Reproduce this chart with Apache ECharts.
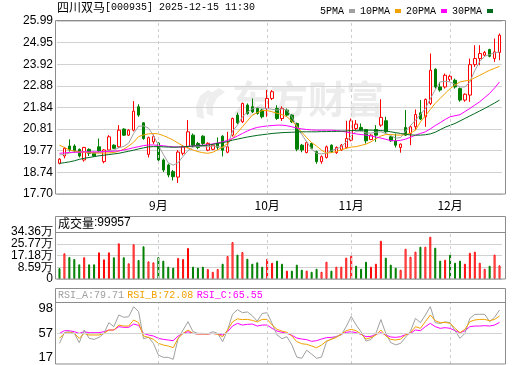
<!DOCTYPE html>
<html><head><meta charset="utf-8">
<script src="https://cdn.jsdelivr.net/npm/echarts@6/dist/echarts.min.js"></script>
<style>html,body{margin:0;padding:0;background:#fff}#c{width:520px;height:365px}</style>
</head><body><div id="c"></div>
<script>
// ---- trading days shown (Aug 4 2025 .. Dec 15 2025) ----
const augDays=[4,5,6,7,8,11,12,13,14,15,18,19,20,21,22,25,26,27,28,29];
const sepDays=[1,2,3,4,5,8,9,10,11,12,15,16,17,18,19,22,23,24,25,26,29,30];
const octDays=[9,10,13,14,15,16,17,20,21,22,23,24,27,28,29,30,31];
const novDays=[3,4,5,6,7,10,11,12,13,14,17,18,19,20,21,24,25,26,27,28];
const decDays=[1,2,3,4,5,8,9,10,11,12,15];
const monthList=[[8,augDays],[9,sepDays],[10,octDays],[11,novDays],[12,decDays]];
const categories=[];const monthStarts=[];
monthList.forEach(([m,ds],k)=>{ds.forEach((d,j)=>{const s='2025-'+String(m).padStart(2,'0')+'-'+String(d).padStart(2,'0');categories.push(s);if(j===0&&k>0)monthStarts.push(s);});});

// ---- candles: [open, close, low, high] ----
const ohlc=[
[19.17,19.37,19.12,19.42],[19.52,19.89,19.41,19.96],[20.00,19.81,19.73,20.32],[20.00,19.77,19.68,20.08],[19.84,19.52,19.45,19.88],
[19.33,19.93,19.25,19.96],[19.84,19.65,19.52,19.89],[19.68,19.52,19.49,19.73],[19.96,19.77,19.73,20.36],[19.25,19.81,19.17,19.85],
[19.81,20.44,19.77,20.52],[20.04,19.89,19.85,20.08],[19.96,20.76,19.90,21.00],[20.81,20.52,20.48,20.85],[20.52,20.76,20.48,20.80],
[20.76,21.67,20.70,22.15],[21.88,21.48,21.40,22.00],[21.11,20.36,20.30,21.15],[19.60,20.40,19.45,20.45],[20.20,20.45,20.10,20.55],
[20.14,19.33,19.25,20.18],[19.33,18.85,18.75,19.40],[19.09,18.61,18.50,19.15],[18.77,18.53,18.35,18.85],[18.51,19.71,18.23,19.80],
[19.65,19.96,19.55,20.05],[19.96,20.68,19.90,21.24],[20.52,20.04,19.95,20.60],[20.12,19.93,19.85,20.20],[20.47,20.12,20.05,20.52],
[19.80,20.13,19.75,20.18],[19.84,20.04,19.80,20.10],[20.13,19.94,19.81,20.41],[20.47,19.80,19.50,20.52],[19.70,19.96,19.65,20.68],
[20.52,21.32,20.45,21.36],[21.48,21.11,21.05,21.60],[21.16,22.04,21.10,22.08],[21.96,21.56,21.50,22.04],[21.88,21.64,21.58,22.28],
[21.80,21.56,21.50,21.85],[21.72,21.40,21.32,21.78],[21.80,22.28,21.40,22.68],[22.28,22.60,22.20,22.68],[21.80,21.32,21.25,21.95],
[21.32,21.80,21.20,21.90],[21.72,21.48,21.42,21.80],[21.48,21.16,21.10,21.52],[21.08,19.85,19.75,21.12],[20.04,19.81,19.70,20.10],
[19.69,20.16,19.65,20.22],[20.12,19.89,19.84,20.16],[19.73,19.25,19.15,19.78],[19.25,19.49,19.15,19.55],[19.45,19.96,19.40,20.02],
[20.04,19.73,19.68,20.08],[19.68,19.93,19.62,19.98],[19.81,20.04,19.76,20.10],[19.93,20.36,19.88,21.21],[20.28,21.21,20.22,21.32],
[20.84,21.05,20.76,21.24],[20.89,20.76,20.70,21.08],[20.79,20.25,20.12,20.82],[20.31,20.52,20.28,20.56],[20.79,20.52,20.20,21.00],
[21.00,21.37,20.92,22.24],[21.21,20.68,20.60,21.40],[20.44,20.25,20.20,20.48],[20.25,20.04,19.93,20.60],[19.93,20.09,19.68,20.12],
[20.89,20.52,20.48,21.72],[20.60,20.92,20.04,20.98],[20.92,21.51,20.76,21.75],[21.59,21.29,21.24,22.20],[21.40,22.23,20.92,22.28],
[22.04,23.63,21.96,24.43],[23.68,22.83,22.75,23.72],[22.83,22.68,22.60,23.07],[22.83,23.39,22.75,23.47],[23.19,23.34,23.10,23.42],
[23.15,22.83,22.75,23.23],[22.75,22.20,22.12,22.80],[22.20,22.48,22.12,22.52],[22.44,23.90,22.12,24.19],[23.90,24.19,23.79,24.83],
[24.19,24.43,23.87,24.83],[24.35,24.48,24.30,24.55],[24.62,24.30,24.25,24.66],[24.19,24.51,24.03,25.15],[24.48,25.31,24.11,25.39]];

// ---- volume (手) ----
const volume=[80000,188000,161000,146000,107000,159000,107000,107000,195000,144000,
195000,159000,261000,159000,115000,254000,139000,239000,129000,122000,
160000,134000,90000,83000,154000,146000,227000,90000,83000,90000,
73000,53000,73000,112000,168000,270000,178000,197000,148000,112000,
122000,90000,148000,119000,134000,112000,61000,61000,105000,68000,
61000,53000,75000,53000,126000,61000,90000,90000,156000,170000,
97000,75000,126000,90000,112000,280000,156000,105000,83000,68000,
221000,163000,200000,236000,236000,309000,229000,134000,141000,178000,
119000,134000,112000,192000,200000,119000,75000,97000,178000,99957];
// volume bar direction as drawn (1 = red/up, 0 = green/down)
const volUp=[0,1,0,0,0,1,0,0,1,1,1,0,1,0,1,1,0,0,1,1,
0,0,0,0,1,1,1,0,0,0,1,1,1,0,1,1,0,1,0,0,0,0,
1,1,0,0,1,0,0,0,1,0,0,1,1,0,1,1,1,
1,0,0,0,1,1,1,0,0,0,1,1,1,1,0,1,1,0,0,1,
0,0,0,1,1,1,1,1,0,1,1];

// ---- moving averages ----
const ma5=[19.57,19.60,19.66,19.72,19.70,19.74,19.68,19.66,19.70,19.72,19.78,19.80,19.92,19.98,20.14,20.60,20.95,20.96,20.86,20.50,
20.04,19.60,19.20,19.08,19.20,19.50,19.78,19.95,19.98,19.97,19.96,20.00,19.98,19.92,20.00,20.72,21.00,21.40,21.62,21.78,
21.86,21.82,21.80,21.76,21.72,21.78,21.72,21.40,20.95,20.55,20.20,19.85,19.65,19.62,19.66,19.78,19.86,19.96,20.20,20.50,
20.70,20.72,20.62,20.62,20.66,20.68,20.60,20.50,20.38,20.40,20.72,20.98,21.24,21.50,21.80,22.26,22.70,23.07,23.10,23.07,
22.95,22.83,22.83,23.07,23.62,24.05,24.30,24.38,24.46,24.51];
const ma10=[20.04,19.93,19.81,19.76,19.72,19.70,19.68,19.67,19.66,19.66,19.67,19.69,19.75,19.85,20.00,20.18,20.45,20.53,20.58,20.60,
20.58,20.50,20.40,20.28,20.14,20.00,19.90,19.81,19.73,19.68,19.65,19.70,19.82,19.95,20.12,20.36,20.65,20.92,21.20,21.48,
21.60,21.70,21.70,21.64,21.57,21.50,21.40,21.20,20.95,20.66,20.40,20.16,20.00,19.80,19.66,19.68,19.74,19.82,19.89,19.95,
19.97,20.03,20.09,20.20,20.35,20.48,20.55,20.55,20.53,20.52,20.55,20.62,20.76,21.15,21.45,21.75,22.05,22.28,22.52,22.75,
22.92,23.07,23.12,23.15,23.27,23.39,23.51,23.63,23.72,23.82];
const ma20=[19.65,19.67,19.69,19.70,19.71,19.72,19.72,19.72,19.72,19.73,19.74,19.75,19.77,19.81,19.86,19.92,19.97,20.02,20.05,20.05,
20.03,20.01,19.98,19.96,19.95,19.96,19.98,20.00,20.03,20.04,20.06,20.10,20.15,20.20,20.27,20.36,20.48,20.60,20.72,20.82,
20.89,20.93,20.96,20.98,21.00,21.00,20.97,20.92,20.86,20.82,20.79,20.77,20.76,20.76,20.76,20.76,20.74,20.71,20.67,20.62,
20.58,20.55,20.52,20.48,20.43,20.38,20.32,20.26,20.25,20.27,20.33,20.42,20.52,20.60,20.68,20.82,20.98,21.12,21.27,21.40,
21.45,21.50,21.65,21.80,21.96,22.12,22.32,22.52,22.78,23.07];
const ma30=[19.17,19.20,19.24,19.29,19.36,19.41,19.45,19.49,19.53,19.56,19.59,19.62,19.65,19.70,19.75,19.80,19.86,19.91,19.96,19.97,
19.97,19.96,19.95,19.94,19.95,19.96,19.98,20.00,20.01,20.02,20.04,20.08,20.12,20.16,20.21,20.28,20.33,20.38,20.43,20.47,
20.51,20.54,20.57,20.60,20.62,20.64,20.65,20.66,20.67,20.68,20.68,20.68,20.68,20.69,20.69,20.70,20.70,20.71,20.72,20.74,
20.75,20.76,20.76,20.76,20.75,20.74,20.72,20.68,20.64,20.60,20.56,20.53,20.52,20.52,20.54,20.58,20.66,20.78,20.90,20.99,
21.08,21.20,21.32,21.44,21.56,21.68,21.80,21.93,22.06,22.20];

// ---- RSI ----
const rsiA=[44.0,57.9,59.2,57.0,44.9,61.4,50.5,49.2,51.8,57.0,71.0,65.8,81.0,78.0,78.8,91.9,85.4,50.0,52.0,44.0,
28.7,25.7,25.7,23.1,50.5,61.4,72.3,59.2,57.0,57.0,56.2,59.2,57.0,46.2,61.4,82,88,84,85,80,
73,83,84,70,55,50,52.7,42,26,24.4,35,30,24.4,26,46,50,53,55,66,79,
68,59,47,49,57,75,57,45,42,44,52,60,76.6,71,81,92,71,70,72,71,
60.5,50.5,57,76.6,81.9,81.9,81.9,72.3,78,87.5];
const rsiB=[50.5,57.0,57.9,57.0,50.5,57.0,54.9,54.9,54.9,57.0,61.4,61.4,67.9,66.6,66.6,74.5,71.0,53.6,51.8,49.2,
44.0,41.8,40.5,38.3,50.5,57.0,61.4,57.0,56.2,56.2,56.2,57.0,55.7,52.7,61.4,72,76,75,75.3,74,
72,75.3,75.3,68,62.3,60,58.4,53.6,46.2,43.5,42.7,40.5,38.3,41.8,47,49.2,51.8,56.2,60.5,62.3,
60.5,56.2,49.6,51.4,54.9,61.4,53.6,49.2,48.3,49.6,54.9,57.9,65.8,63.6,72.3,81,73.6,71,71.4,70.1,
63.6,57.9,62.3,72.3,74.5,75.3,75.3,73.6,75.3,79.7];
const rsiC=[57.0,60.5,60.5,59.2,57.0,59.2,57.9,57.9,57.9,59.2,61.4,61.4,65.8,64.9,64.9,69.2,67.5,57.0,54.9,53.6,
50.5,49.2,48.3,47.5,53.6,57.0,59.2,57.0,56.2,56.2,56.2,57.0,56.2,54.9,59.2,66.6,70.1,67.9,68.8,69.2,
66.6,67.9,67.9,63.6,60,58.4,57,54.4,50.9,49.6,48.8,46.6,47.5,49.6,51.4,51.8,52.7,55.7,58.4,59.2,
57.9,55.7,52.7,53.1,55.7,57.9,54.9,52.3,51.8,52.7,55.3,57,61.4,60.5,65.8,70.1,65.8,63.6,64.5,63.6,
60.5,57.9,60.5,65.8,66.6,66.6,67.1,66.6,67.9,71.4];
const rsiHeader=['79.71','72.08','65.55'];

// ---- tick labels ----
const priceTicks=['17.70','18.74','19.77','20.81','21.84','22.88','23.92','24.95','25.99'];
const volTickValues=[0,85900,171800,257700,343600];
const volTicks=['0','8.59万','17.18万','25.77万','34.36万'];
const rsiTicks=[17,57,98];

const stockName='四川双马';
const stockCode='[000935]';
const stamp='2025-12-15 11:30';

// ---------------------------------------------------------------
const UP='#ff0000', DOWN='#008000';
const C5='#a0a0a0', C10='#f2a100', C20='#ff00ff', C30='#006a1e';
const GRID='#d2d2d2', FRAME='#8c8c8c';
const pMin=parseFloat(priceTicks[0]), pMax=parseFloat(priceTicks[priceTicks.length-1]);
const vMax=volTickValues[volTickValues.length-1];
function nearest(arr,v){let best=arr[0],bd=Infinity;arr.forEach(s=>{const d=Math.abs(parseFloat(s)-v);if(d<bd){bd=d;best=s;}});return best;}
function volLabel(v){let k=0,bd=Infinity;volTickValues.forEach((t,i)=>{const d=Math.abs(t-v);if(d<bd){bd=d;k=i;}});return volTicks[k];}

const volData=volume.map((v,i)=>({value:v,itemStyle:volUp[i]?{color:'#ffffff',borderColor:UP,borderWidth:1}:{color:DOWN,borderColor:DOWN,borderWidth:1}}));
const dashed={silent:true,symbol:['none','none'],label:{show:false},lineStyle:{type:[3,3],color:'#cfcfcf',width:1},emphasis:{disabled:true},data:monthStarts.map(d=>({xAxis:d}))};

const chart=echarts.init(document.getElementById('c'),null,{renderer:'canvas',width:520,height:365});
const mkX=(g)=>({type:'category',gridIndex:g,data:categories,boundaryGap:true,axisLine:{show:false},axisTick:{show:false},splitLine:{show:false},
  axisLabel:g===0?{show:true,interval:(idx,val)=>monthStarts.includes(val),formatter:v=>parseInt(v.slice(5,7),10)+'月',margin:5,color:'#000',fontSize:12,fontFamily:'Noto Sans CJK SC'}:{show:false}});
const volLabelStyle={formatter:volLabel,margin:4,color:'#000',fontSize:12,fontFamily:'Liberation Sans'};
chart.setOption({
  animation:false,
  backgroundColor:'#ffffff',
  legend:{data:['5PMA','10PMA','20PMA','30PMA'],right:22,top:1,align:'right',icon:'rect',itemWidth:6,itemHeight:4,itemGap:5,
    textStyle:{fontFamily:'Liberation Mono',fontSize:10,color:'#000'},selectedMode:false},
  grid:[{left:57,right:18,top:21,height:173},{left:57,right:18,top:232,height:47},{left:57,right:18,top:302,height:62}],
  xAxis:[mkX(0),mkX(1),mkX(2)],
  yAxis:[
    {type:'value',gridIndex:0,min:pMin,max:pMax,interval:(pMax-pMin)/8,axisLine:{show:false},axisTick:{show:false},
      splitLine:{show:true,lineStyle:{color:GRID,width:1}},axisLabel:{formatter:v=>nearest(priceTicks,v),margin:4,color:'#000',fontSize:12,fontFamily:'Liberation Sans',showMinLabel:true,showMaxLabel:true}},
    {type:'value',gridIndex:1,min:0,max:vMax,interval:vMax/4,axisLine:{show:false},axisTick:{show:false},
      splitLine:{show:true,lineStyle:{color:GRID,width:1}},axisLabel:Object.assign({customValues:[volTickValues[0],volTickValues[2],volTickValues[4]]},volLabelStyle)},
    {type:'value',gridIndex:2,min:rsiTicks[0],max:rsiTicks[2],axisLine:{show:false},axisTick:{show:false},splitLine:{show:false},
      axisLabel:{customValues:rsiTicks,verticalAlignMaxLabel:'top',verticalAlignMinLabel:'bottom',margin:4,color:'#000',fontSize:13,fontFamily:'Liberation Sans'}},
    {type:'value',gridIndex:1,position:'left',min:0,max:vMax,axisLine:{show:false},axisTick:{show:false},splitLine:{show:false},
      axisLabel:Object.assign({customValues:[volTickValues[1],volTickValues[3]]},volLabelStyle)}
  ],
  series:[
    {type:'candlestick',name:'K',xAxisIndex:0,yAxisIndex:0,data:ohlc,barWidth:3,
      itemStyle:{color:'#ffffff',color0:DOWN,borderColor:UP,borderColor0:DOWN,borderWidth:1},markLine:dashed,z:3},
    {type:'line',name:'5PMA',xAxisIndex:0,yAxisIndex:0,data:ma5,showSymbol:false,symbol:'none',lineStyle:{width:1,color:C5},itemStyle:{color:C5},z:4},
    {type:'line',name:'10PMA',xAxisIndex:0,yAxisIndex:0,data:ma10,showSymbol:false,symbol:'none',lineStyle:{width:1,color:C10},itemStyle:{color:C10},z:4},
    {type:'line',name:'20PMA',xAxisIndex:0,yAxisIndex:0,data:ma20,showSymbol:false,symbol:'none',lineStyle:{width:1,color:C20},itemStyle:{color:C20},z:4},
    {type:'line',name:'30PMA',xAxisIndex:0,yAxisIndex:0,data:ma30,showSymbol:false,symbol:'none',lineStyle:{width:1,color:C30},itemStyle:{color:C30},z:4},
    {type:'bar',name:'VOL',xAxisIndex:1,yAxisIndex:1,data:volData,barWidth:2,markLine:dashed},
    {type:'line',name:'RSI_A',xAxisIndex:2,yAxisIndex:2,data:rsiA,showSymbol:false,symbol:'none',lineStyle:{width:1,color:C5},markLine:dashed},
    {type:'line',name:'RSI_B',xAxisIndex:2,yAxisIndex:2,data:rsiB,showSymbol:false,symbol:'none',lineStyle:{width:1,color:C10}},
    {type:'line',name:'RSI_C',xAxisIndex:2,yAxisIndex:2,data:rsiC,showSymbol:false,symbol:'none',lineStyle:{width:1,color:C20},
      markLine:{silent:true,symbol:['none','none'],label:{show:false},lineStyle:{type:'solid',color:GRID,width:1},data:[{yAxis:rsiTicks[1]}]},z:1}
  ],
  graphic:[
    {type:'polygon',z:-1,shape:{points:[[208,90],[200,96],[196,106],[197,117],[204,119],[203,108],[207,99],[214,94]]},style:{fill:'#eeeeee'}},
    {type:'polygon',z:-1,shape:{points:[[219,88],[211,93],[206,103],[207,114],[213,116],[213,106],[217,98],[225,92]]},style:{fill:'#eeeeee'}},
    {type:'text',left:232,top:80,z:-1,style:{text:'东方财富',font:'bold 38px "Noto Sans CJK SC"',fill:'#ececec'}},
    {type:'rect',shape:{x:55.5,y:20.5,width:450,height:173.5},style:{fill:'none',stroke:FRAME,lineWidth:1},z:10},
    {type:'rect',shape:{x:55.5,y:216.5,width:450,height:62.5},style:{fill:'none',stroke:FRAME,lineWidth:1},z:10},
    {type:'line',shape:{x1:55.5,y1:232.5,x2:505.5,y2:232.5},style:{stroke:FRAME,lineWidth:1},z:10},
    {type:'rect',shape:{x:55.5,y:288.5,width:450,height:75.5},style:{fill:'none',stroke:FRAME,lineWidth:1},z:10},
    {type:'line',shape:{x1:55.5,y1:302.5,x2:505.5,y2:302.5},style:{stroke:FRAME,lineWidth:1},z:10},
    {type:'text',left:57,top:1,z:10,style:{text:'{a|'+stockName+'}{b|'+stockCode+' '+stamp+'}',
      rich:{a:{fontFamily:'Noto Sans CJK SC',fontSize:12,fill:'#000'},b:{fontFamily:'Liberation Mono',fontSize:10,fill:'#000'}}}},
    {type:'text',left:58,top:217,z:10,style:{text:'{a|成交量}{b|:'+volume[volume.length-1]+'}',
      rich:{a:{fontFamily:'Noto Sans CJK SC',fontSize:12,fill:'#000'},b:{fontFamily:'Liberation Sans',fontSize:12,fill:'#000'}}}},
    {type:'text',left:58,top:289,z:10,style:{text:'{a|RSI_A:'+rsiHeader[0]+'} {b|RSI_B:'+rsiHeader[1]+'} {c|RSI_C:'+rsiHeader[2]+'}',
      rich:{a:{fontFamily:'Liberation Mono',fontSize:10,fill:C5},b:{fontFamily:'Liberation Mono',fontSize:10,fill:C10},c:{fontFamily:'Liberation Mono',fontSize:10,fill:C20}}}}
  ]
});
</script></body></html>
